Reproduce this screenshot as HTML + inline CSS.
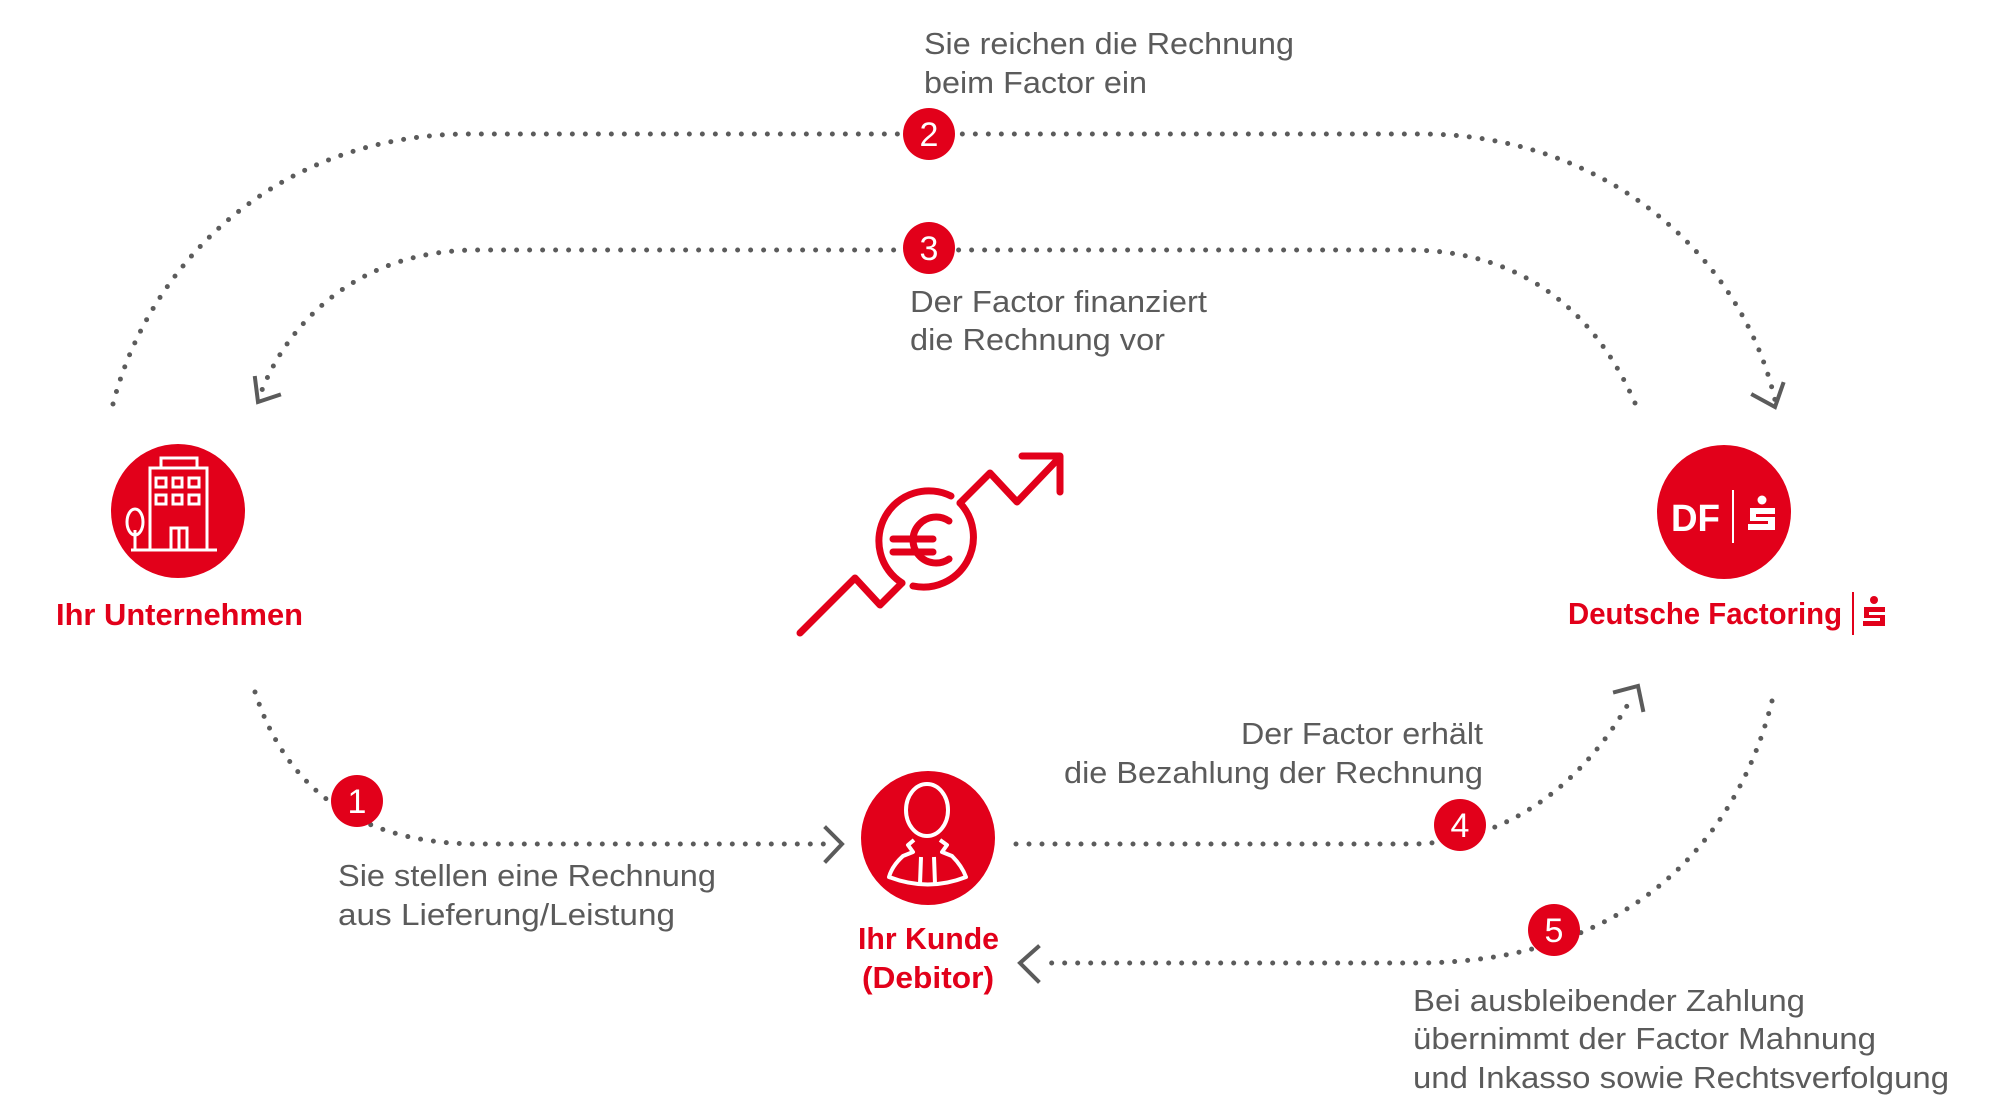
<!DOCTYPE html>
<html><head><meta charset="utf-8"><style>
html,body{margin:0;padding:0;background:#fff;}
svg{display:block;}
.g{font-family:"Liberation Sans",sans-serif;font-size:31px;fill:#5b5b5b;}
.r{font-family:"Liberation Sans",sans-serif;font-size:31px;fill:#e2001a;font-weight:bold;}
.n{font-family:"Liberation Sans",sans-serif;font-size:34px;fill:#fff;text-anchor:middle;}
.d{fill:none;stroke:#5b5b5b;stroke-width:5;stroke-linecap:round;stroke-dasharray:0 13;}
.c{fill:none;stroke:#5b5b5b;stroke-width:4;stroke-linecap:square;}
</style></head><body>
<svg width="2000" height="1109" viewBox="0 0 2000 1109" xmlns="http://www.w3.org/2000/svg">
<!-- connectors -->
<path class="d" d="M113,404 C150,260 280,134 470,134 L1421,134 C1600,134 1740,250 1775,400"/>
<polyline class="c" points="1753,395 1775,407 1783,384"/>
<path class="d" d="M1635,403 C1590,300 1510,250 1408,250 L478,250 C360,250 290,320 262,390"/>
<polyline class="c" points="255,378 258,402 279,395"/>
<path class="d" d="M255,692 C280,770 340,844 478,844 L832,844"/>
<polyline class="c" points="826,828 842,844 826,861"/>
<path class="d" d="M1016,844 L1410,844 C1500,844 1580,790 1631,699"/>
<polyline class="c" points="1615,692 1638,686 1643,710"/>
<path class="d" d="M1772,701 C1740,830 1640,963 1415,963 L1040,963"/>
<polyline class="c" points="1038,947 1020,963 1038,981"/>

<!-- number circles -->
<g fill="#e2001a">
<circle cx="929" cy="134" r="26"/><circle cx="929" cy="248" r="26"/>
<circle cx="357" cy="801" r="26"/><circle cx="1460" cy="825" r="26"/><circle cx="1554" cy="930" r="26"/>
</g>
<text class="n" x="929" y="146">2</text>
<text class="n" x="929" y="260">3</text>
<text class="n" x="357" y="813">1</text>
<text class="n" x="1460" y="837">4</text>
<text class="n" x="1554" y="942">5</text>

<!-- gray texts -->
<text class="g" x="924" y="54" textLength="370" lengthAdjust="spacingAndGlyphs">Sie reichen die Rechnung</text>
<text class="g" x="924" y="93" textLength="223" lengthAdjust="spacingAndGlyphs">beim Factor ein</text>
<text class="g" x="910" y="312" textLength="297" lengthAdjust="spacingAndGlyphs">Der Factor finanziert</text>
<text class="g" x="910" y="350" textLength="255" lengthAdjust="spacingAndGlyphs">die Rechnung vor</text>
<text class="g" x="338" y="886" textLength="378" lengthAdjust="spacingAndGlyphs">Sie stellen eine Rechnung</text>
<text class="g" x="338" y="925" textLength="337" lengthAdjust="spacingAndGlyphs">aus Lieferung/Leistung</text>
<text class="g" x="1241" y="744" textLength="242" lengthAdjust="spacingAndGlyphs">Der Factor erhält</text>
<text class="g" x="1064" y="783" textLength="419" lengthAdjust="spacingAndGlyphs">die Bezahlung der Rechnung</text>
<text class="g" x="1413" y="1011" textLength="392" lengthAdjust="spacingAndGlyphs">Bei ausbleibender Zahlung</text>
<text class="g" x="1413" y="1049" textLength="463" lengthAdjust="spacingAndGlyphs">übernimmt der Factor Mahnung</text>
<text class="g" x="1413" y="1088" textLength="536" lengthAdjust="spacingAndGlyphs">und Inkasso sowie Rechtsverfolgung</text>

<!-- left node: building -->
<circle cx="178" cy="511" r="67" fill="#e2001a"/>
<g fill="none" stroke="#fff" stroke-width="3">
<rect x="150" y="468" width="57" height="82"/>
<rect x="161" y="458" width="36" height="10"/>
<rect x="156" y="478" width="10" height="9"/><rect x="173" y="478" width="9" height="9"/><rect x="189" y="478" width="10" height="9"/>
<rect x="156" y="495" width="10" height="9"/><rect x="173" y="495" width="9" height="9"/><rect x="189" y="495" width="10" height="9"/>
<rect x="171" y="528" width="16" height="22"/><line x1="179" y1="528" x2="179" y2="550"/>
<ellipse cx="135" cy="522" rx="8" ry="13"/><line x1="135" y1="530" x2="135" y2="550"/>
<line x1="131" y1="550" x2="217" y2="550"/>
</g>
<text class="r" x="56" y="625" textLength="247" lengthAdjust="spacingAndGlyphs">Ihr Unternehmen</text>

<!-- right node: DF -->
<circle cx="1724" cy="512" r="67" fill="#e2001a"/>
<text x="1671" y="531" font-family="Liberation Sans,sans-serif" font-weight="bold" font-size="38" fill="#fff" textLength="49" lengthAdjust="spacingAndGlyphs">DF</text>
<line x1="1733" y1="490" x2="1733" y2="543" stroke="#fff" stroke-width="2"/>
<circle cx="1762" cy="500" r="4.5" fill="#fff"/>
<path d="M1750,508 h25 v6 h-19 v3 h19 v13 h-27 v-6 h20 v-3 h-18 z" fill="#fff"/>
<text class="r" x="1568" y="624" textLength="274" lengthAdjust="spacingAndGlyphs">Deutsche Factoring</text>
<line x1="1853" y1="592" x2="1853" y2="635" stroke="#e2001a" stroke-width="2"/>
<circle cx="1874" cy="600" r="4" fill="#e2001a"/>
<path d="M1864,607 h21 v5 h-16 v3 h16 v11 h-22 v-5 h17 v-3 h-16 z" fill="#e2001a"/>

<!-- center icon -->
<g fill="none" stroke="#e2001a" stroke-width="7" stroke-linecap="round" stroke-linejoin="round">
<polyline points="800,633 855,578 880,605 902,583"/>
<polyline points="960,503 990,473 1017,502 1060,457"/>
<polyline points="1022,456 1060,456 1060,492"/>
<path d="M902,583 A50,50 0 0 1 951,496"/>
<path d="M960,503 A50,50 0 0 1 913,586"/>
<path d="M949,521 A23,23 0 1 0 949,559"/>
<line x1="893" y1="539" x2="933" y2="539"/>
<line x1="893" y1="552" x2="933" y2="552"/>
</g>

<!-- person node -->
<circle cx="928" cy="838" r="67" fill="#e2001a"/>
<g fill="none" stroke="#fff" stroke-width="4" stroke-linejoin="round">
<ellipse cx="927" cy="810" rx="21" ry="26"/>
<path d="M914,840 L908,845 L913,852 L903,856 Q892,866 889,877 Q928,892 966,877 Q962,866 952,856 L942,852 L947,845 L940,840"/>
<path d="M921,857 L920,884 M934,857 L935,884"/>
</g>
<text class="r" x="858" y="949" textLength="141" lengthAdjust="spacingAndGlyphs">Ihr Kunde</text>
<text class="r" x="862" y="988" textLength="132" lengthAdjust="spacingAndGlyphs">(Debitor)</text>
</svg>
</body></html>
